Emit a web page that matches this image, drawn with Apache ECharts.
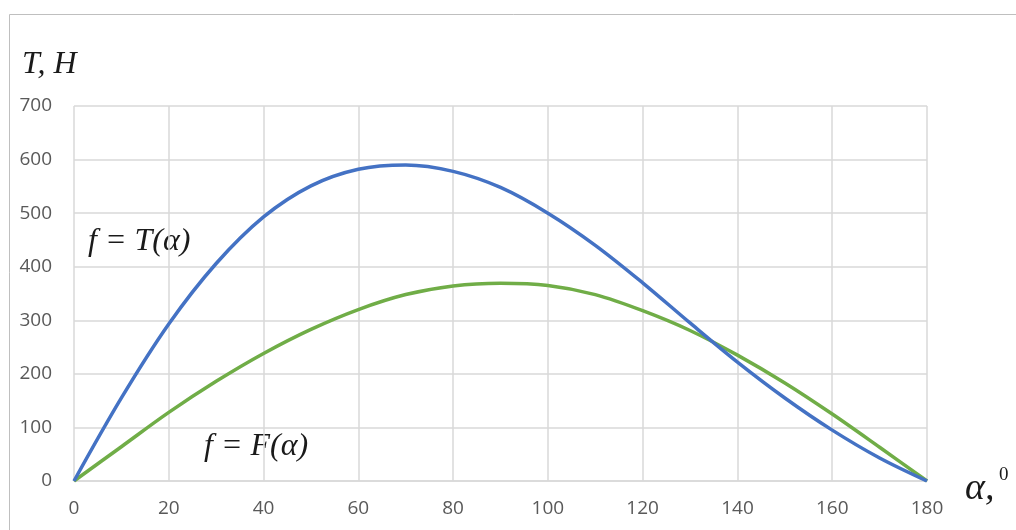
<!DOCTYPE html>
<html>
<head>
<meta charset="utf-8">
<script src="https://cdn.jsdelivr.net/npm/echarts@6/dist/echarts.min.js"></script>
<style>html,body{margin:0;padding:0;background:#fff;}#c{width:1016px;height:530px;}</style>
</head>
<body>
<div id="c"></div>
<script>
const angles = [0,10,20,30,40,50,60,70,80,90,100,110,120,130,140,150,160,170,180];
const tValues = [0,155,293,406,493,551,582,590,578,548,500,440,370,295,222,155,95,43,0];
const fValues = [0,64,128,186,238,283,320,348,364,369,365,348,318,281,235,183,125,63,0];
const xTicks = [0,20,40,60,80,100,120,140,160,180];
const yTicks = [0,100,200,300,400,500,600,700];

const chart = echarts.init(document.getElementById('c'), null, {renderer:'canvas'});
const pairs = (xs, v) => xs.map((a,i)=>[a, v[i]]);
const serif = '"Liberation Serif", "DejaVu Serif", serif';
chart.setOption({
  animation:false,
  backgroundColor:'#fff',
  grid:{left:74, right:89, top:106, bottom:49},
  xAxis:{type:'value', min:xTicks[0], max:xTicks[xTicks.length-1], interval:20,
    axisLine:{show:true, lineStyle:{color:'#d9d9d9', width:1.5}},
    axisTick:{show:false},
    splitLine:{show:true, lineStyle:{color:'#d9d9d9', width:1.5}},
    axisLabel:{color:'#595959', fontFamily:'"Open Sans", sans-serif', fontSize:19, margin:18}},
  yAxis:{type:'value', min:yTicks[0], max:yTicks[yTicks.length-1], interval:100,
    axisLine:{show:false}, axisTick:{show:false},
    splitLine:{show:true, lineStyle:{color:'#d9d9d9', width:1.5}},
    axisLabel:{color:'#595959', fontFamily:'"Open Sans", sans-serif', fontSize:19, margin:22}},
  series:[
    {type:'line', data:pairs(angles, tValues), smooth:0.33, showSymbol:false, lineStyle:{color:'#4472C4', width:3.5}, z:3},
    {type:'line', data:pairs(angles, fValues), smooth:0.33, showSymbol:false, lineStyle:{color:'#70AD47', width:3.5}, z:2}
  ],
  graphic:[
    {type:'rect', shape:{x:9.5, y:14.5, width:1100, height:600}, style:{fill:'none', stroke:'#bfbfbf', lineWidth:1}, silent:true},
    {type:'text', left:22, top:49, style:{text:'T, H', font:'italic 32px '+serif, fill:'#1a1a1a'}},
    {type:'text', left:88, top:226, style:{text:'f = T(α)', font:'italic 32px '+serif, fill:'#1a1a1a'}},
    {type:'text', left:204, top:431, style:{text:'f = F(α)', font:'italic 32px '+serif, fill:'#1a1a1a'}},
    {type:'text', left:965, top:470, style:{text:'α,', font:'italic 38px '+serif, fill:'#1a1a1a'}},
    {type:'text', left:999, top:466, style:{text:'0', font:'19px '+serif, fill:'#1a1a1a'}}
  ]
});
</script>
</body>
</html>
